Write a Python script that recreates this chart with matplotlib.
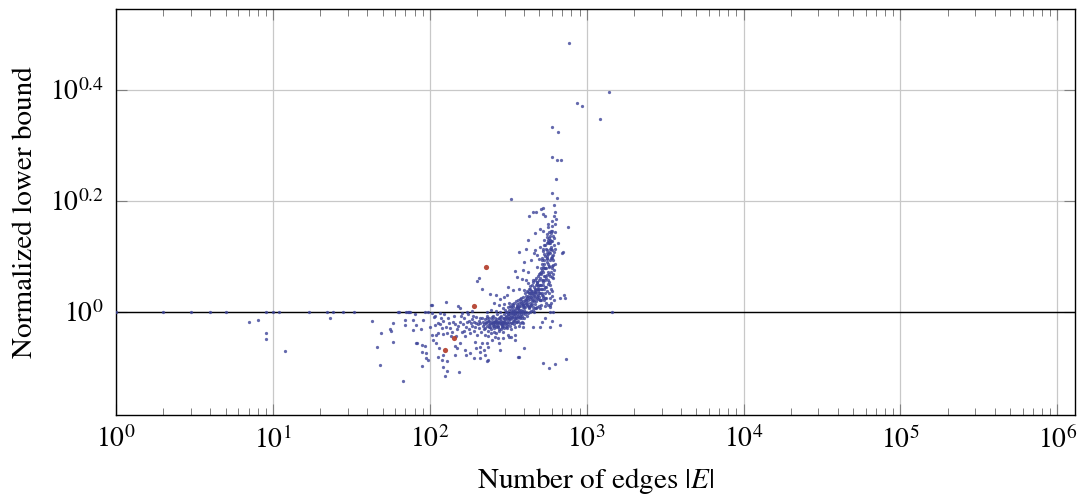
import numpy as np
import matplotlib
matplotlib.use("Agg")
import matplotlib.pyplot as plt
from matplotlib.ticker import FixedLocator, NullLocator, LogLocator, NullFormatter

plt.rcParams['font.family'] = ['STIXGeneral', 'DejaVu Serif']
plt.rcParams['mathtext.fontset'] = 'stix'

# ---------------- data ----------------
# points lying on the reference line (bound = 1)
edges_line = [1, 2, 3, 4, 5, 9, 10, 11, 17, 22, 24, 28, 33, 63, 64, 71, 73, 74, 75, 93, 98, 585, 610, 1450]
bound_line = [1.0, 1.0, 1.0, 1.0, 1.0, 1.0, 1.0, 1.0, 1.0, 1.0, 1.0, 1.0,
              1.0, 1.0, 1.0, 1.0, 1.0, 1.0, 1.0, 1.0, 1.0, 1.0, 1.0, 1.0]

# sparse points below the line
edges_sparse = [7, 8, 9, 9, 12, 23, 43, 49, 46, 48,
                58, 56, 57, 58, 67, 69, 70, 78, 78, 82,
                88, 91, 83, 89, 93, 89, 95, 89, 95, 97,
                80, 82,
                102, 104, 106, 100, 103, 108, 116, 119, 109, 113,
                121, 105, 110, 114, 113, 119, 121, 129, 121, 125,
                128, 154, 145, 145, 148, 156, 167, 170, 180, 190,
                193, 197, 208, 208, 235, 225, 280, 275, 230, 250,
                260, 273, 292, 315, 330, 350, 365, 400, 350, 455,
                505, 520, 545, 585, 675, 605, 525, 575, 630, 740,
                370, 235, 233, 220, 208, 215, 292, 320, 103, 126,
                116, 152, 156]
bound_sparse = [0.961, 0.969, 0.917, 0.893, 0.851, 0.974, 0.965, 0.917, 0.865, 0.803,
                0.954, 0.933, 0.926, 0.884, 0.75, 0.967, 0.946, 0.967, 0.928, 0.946,
                0.931, 0.967, 0.878, 0.872, 0.869, 0.846, 0.843, 0.80, 0.826, 0.82,
                0.99, 0.881,
                1.03, 0.995, 0.978, 0.941, 0.909, 0.947, 0.952, 0.935, 0.909, 0.915,
                0.913, 0.891, 0.878, 0.86, 0.831, 0.82, 0.837, 0.816, 0.797, 0.767,
                0.784, 0.779, 0.87, 0.837, 0.86, 0.878, 0.854, 0.837, 0.843, 0.826,
                0.884, 0.86, 0.866, 0.827, 0.82, 0.837, 0.854, 0.878, 0.878, 0.891,
                0.903, 0.897, 0.922, 0.909, 0.903, 0.891, 0.831, 0.863, 0.909, 0.941,
                0.941, 0.961, 0.974, 0.941, 0.947, 0.965, 0.808, 0.794, 0.806, 0.822,
                0.831, 0.866, 0.817, 0.854, 0.848, 0.878, 0.897, 0.9, 1.029, 1.042,
                0.995, 1.025, 1.015]

# upper part of the cloud and outliers
edges_upper = [774, 1393, 864, 937, 1222, 604, 660, 604, 644, 689,
               640, 600, 650, 329, 620, 525, 515, 455, 475, 630,
               620, 430, 525, 540, 600, 640, 570, 605, 755, 505,
               525, 630, 590, 470, 555, 585, 600, 565, 425, 660,
               535, 505, 705, 695, 410, 370, 470, 460, 485, 525,
               555, 585, 610, 555, 600, 520, 495, 440, 400, 610,
               575, 525, 480, 350, 395, 425, 505, 555, 600, 200,
               205, 215, 360, 385, 410, 455, 425, 480, 530, 570,
               605, 680, 720, 730, 315, 340, 370, 400, 435, 470,
               520, 545, 505, 310, 295, 280, 265, 242, 255, 275,
               295, 320, 340, 365, 395, 435, 470, 505, 545, 585]
bound_upper = [3.04, 2.49, 2.38, 2.35, 2.22, 2.15, 2.11, 1.90, 1.88, 1.873,
               1.735, 1.64, 1.60, 1.597, 1.56, 1.54, 1.53, 1.51, 1.51, 1.51,
               1.49, 1.49, 1.50, 1.49, 1.455, 1.47, 1.44, 1.43, 1.42, 1.41,
               1.40, 1.39, 1.385, 1.385, 1.366, 1.35, 1.342, 1.335, 1.347, 1.33,
               1.32, 1.31, 1.284, 1.275, 1.30, 1.28, 1.29, 1.275, 1.267, 1.285,
               1.275, 1.279, 1.267, 1.244, 1.25, 1.24, 1.247, 1.24, 1.23, 1.215,
               1.203, 1.203, 1.206, 1.186, 1.19, 1.182, 1.174, 1.166, 1.157, 1.137,
               1.15, 1.10, 1.157, 1.148, 1.141, 1.141, 1.126, 1.123, 1.134, 1.123,
               1.09, 1.058, 1.073, 1.058, 1.11, 1.095, 1.098, 1.095, 1.08, 1.088,
               1.073, 1.058, 1.051, 1.073, 1.063, 1.054, 1.073, 1.076, 1.039, 1.029,
               1.034, 1.037, 1.022, 1.015, 1.029, 1.025, 1.015, 1.018, 1.025, 1.029]

# dense core, 100-220 edges
edges_a = [150, 155, 158, 160, 163, 165, 168, 170, 172, 175,
           177, 180, 182, 185, 187, 190, 192, 195, 197, 200,
           202, 205, 207, 210, 212, 215, 217, 220, 152, 166,
           178, 188, 198, 208, 218, 160, 173, 185, 140, 135,
           130, 138, 145, 132, 127, 122, 118, 112, 108, 124,
           142, 146, 136, 128]
bound_a = [0.93, 0.96, 0.985, 0.92, 0.95, 0.975, 0.905, 0.94, 0.96, 0.99,
           0.93, 0.915, 0.955, 0.97, 0.945, 0.925, 0.96, 0.94, 0.98, 0.91,
           0.95, 0.965, 0.935, 0.955, 0.92, 0.975, 0.945, 0.93, 0.945, 0.925,
           0.965, 0.985, 0.955, 0.975, 0.96, 0.995, 1.0, 1.005, 0.96, 0.935,
           0.975, 0.92, 0.95, 0.955, 0.94, 0.965, 0.975, 0.955, 0.985, 0.99,
           0.985, 0.905, 0.905, 0.915]

# dense core, 220-300 edges
edges_b = [222, 224, 226, 228, 230, 232, 234, 236, 238, 240,
           242, 244, 246, 248, 250, 252, 254, 256, 258, 260,
           262, 264, 266, 268, 270, 272, 274, 276, 278, 280,
           282, 284, 286, 288, 290, 292, 294, 296, 298, 300,
           225, 235, 245, 255, 265, 275, 285, 295, 231, 247,
           263, 279, 291, 227, 239, 251, 259, 267, 273, 283,
           289, 297, 237, 243, 253, 261, 269, 277, 287, 299,
           233, 249, 257, 271, 281, 293]
bound_b = [0.95, 0.97, 0.935, 0.96, 0.985, 0.945, 0.925, 0.965, 0.95, 0.975,
           0.94, 0.96, 0.93, 0.955, 0.97, 0.945, 0.985, 0.96, 0.935, 0.95,
           0.975, 0.94, 0.965, 0.955, 0.99, 0.945, 0.96, 0.975, 0.93, 0.955,
           0.97, 0.95, 0.985, 0.96, 0.94, 0.975, 0.955, 0.965, 0.99, 0.95,
           0.91, 0.905, 0.915, 0.92, 0.915, 0.925, 0.93, 0.935, 1.0, 1.01,
           1.005, 1.0, 1.015, 0.955, 0.965, 0.95, 0.965, 0.945, 0.955, 0.965,
           0.95, 0.975, 0.94, 0.95, 0.96, 0.96, 0.97, 0.96, 0.945, 0.96,
           0.975, 0.98, 0.945, 0.94, 0.98, 0.945]

# dense core, 300-400 edges
edges_c = [302, 304, 306, 308, 310, 312, 314, 316, 318, 320,
           322, 324, 326, 328, 330, 332, 334, 336, 338, 340,
           342, 344, 346, 348, 350, 352, 354, 356, 358, 360,
           362, 364, 366, 368, 370, 372, 374, 376, 378, 380,
           382, 384, 386, 388, 390, 392, 394, 396, 398, 400,
           305, 315, 325, 335, 345, 355, 365, 375, 385, 395,
           303, 313, 323, 333, 343, 353, 363, 373, 383, 393,
           307, 317, 327, 337, 347, 357, 367, 377, 387, 397,
           309, 319, 329, 339, 349, 359, 369, 379, 389, 399,
           311, 321, 331, 341, 351, 361, 371, 381, 391, 311,
           331, 351, 371, 391]
bound_c = [0.97, 0.985, 0.955, 1.0, 0.97, 0.945, 0.99, 0.975, 1.01, 0.96,
           0.985, 0.995, 0.97, 1.02, 0.955, 0.98, 1.0, 0.975, 0.99, 1.03,
           0.965, 0.985, 1.005, 0.975, 0.995, 1.015, 0.98, 1.0, 0.96, 0.99,
           1.02, 1.005, 0.985, 1.04, 0.995, 1.01, 0.975, 1.0, 1.025, 0.99,
           1.01, 1.045, 0.985, 1.005, 1.02, 0.995, 1.03, 1.01, 0.975, 1.0,
           0.94, 0.95, 0.945, 0.955, 0.95, 0.96, 0.965, 0.955, 0.96, 0.955,
           1.01, 1.02, 1.025, 1.035, 1.04, 1.045, 1.05, 1.055, 1.06, 1.065,
           0.98, 0.99, 0.985, 1.01, 0.99, 1.025, 1.015, 0.985, 1.035, 1.04,
           0.96, 0.975, 0.995, 0.965, 1.01, 0.975, 0.98, 1.04, 0.975, 1.02,
           1.0, 0.97, 1.01, 0.995, 0.97, 1.035, 1.025, 1.0, 1.045, 0.935,
           0.93, 0.94, 0.945, 0.94]

# dense core, 400-500 edges
edges_d = [402, 405, 408, 410, 412, 415, 418, 420, 422, 425,
           428, 430, 432, 435, 438, 440, 442, 445, 448, 450,
           452, 455, 458, 460, 462, 465, 468, 470, 472, 475,
           478, 480, 482, 485, 488, 490, 492, 495, 498, 500,
           404, 414, 424, 434, 444, 454, 464, 474, 484, 494,
           406, 416, 426, 436, 446, 456, 466, 476, 486, 496,
           409, 419, 429, 439, 449, 459, 469, 479, 489, 499,
           411, 421, 431, 441, 451, 461, 471, 481, 491, 497]
bound_d = [1.02, 1.05, 1.035, 1.07, 1.0, 1.04, 1.06, 1.025, 1.085, 1.05,
           1.015, 1.065, 1.04, 1.1, 1.055, 1.03, 1.075, 1.045, 1.09, 1.06,
           1.02, 1.08, 1.05, 1.11, 1.07, 1.035, 1.095, 1.06, 1.12, 1.08,
           1.045, 1.1, 1.07, 1.13, 1.09, 1.055, 1.115, 1.08, 1.14, 1.1,
           0.99, 0.985, 0.995, 1.0, 1.005, 1.01, 1.0, 1.015, 1.02, 1.025,
           1.08, 1.09, 1.1, 1.115, 1.12, 1.13, 1.14, 1.15, 1.16, 1.17,
           1.045, 1.03, 1.08, 1.065, 1.035, 1.075, 1.085, 1.06, 1.1, 1.065,
           1.055, 1.07, 1.02, 1.09, 1.08, 1.045, 1.1, 1.13, 1.075, 1.12]

# dense core, 500-630 edges
edges_e = [502, 505, 508, 510, 512, 515, 518, 520, 522, 525,
           528, 530, 532, 535, 538, 540, 542, 545, 548, 550,
           552, 555, 558, 560, 562, 565, 568, 570, 572, 575,
           578, 580, 582, 585, 588, 590, 592, 595, 598, 600,
           603, 606, 609, 612, 615, 618, 620, 623, 626, 630,
           504, 514, 524, 534, 544, 554, 564, 574, 584, 594,
           506, 516, 526, 536, 546, 556, 566, 576, 586, 596,
           511, 521, 531, 541, 551, 561, 571, 581, 591, 601,
           513, 523, 533, 543, 553, 563, 573, 583, 593, 605,
           517, 537, 557, 567, 577, 587, 597, 607, 617, 627]
bound_e = [1.15, 1.08, 1.2, 1.12, 1.05, 1.17, 1.25, 1.1, 1.19, 1.14,
           1.3, 1.06, 1.22, 1.16, 1.35, 1.11, 1.26, 1.2, 1.04, 1.3,
           1.15, 1.38, 1.23, 1.09, 1.33, 1.18, 1.42, 1.27, 1.13, 1.36,
           1.21, 1.02, 1.3, 1.16, 1.4, 1.25, 1.1, 1.34, 1.2, 1.29,
           1.07, 1.37, 1.24, 1.15, 1.32, 1.05, 1.28, 1.19, 1.44, 1.22,
           1.05, 1.03, 1.07, 1.05, 1.08, 1.06, 1.03, 1.08, 1.06, 1.04,
           1.12, 1.14, 1.18, 1.2, 1.16, 1.25, 1.22, 1.28, 1.24, 1.31,
           1.18, 1.22, 1.27, 1.32, 1.2, 1.26, 1.33, 1.37, 1.3, 1.4,
           1.1, 1.12, 1.1, 1.14, 1.11, 1.14, 1.17, 1.12, 1.18, 1.21,
           1.08, 1.24, 1.29, 1.35, 1.39, 1.33, 1.26, 1.17, 1.36, 1.3]

# highlighted instances
edges_red = [125, 143, 192, 227]
bound_red = [0.855, 0.899, 1.024, 1.203]

x_ticks = [1e0, 1e1, 1e2, 1e3, 1e4, 1e5, 1e6]
x_tick_labels = [r'$10^{0}$', r'$10^{1}$', r'$10^{2}$', r'$10^{3}$',
                 r'$10^{4}$', r'$10^{5}$', r'$10^{6}$']
y_tick_exponents = [0.0, 0.2, 0.4]
y_tick_labels = [r'$10^{0}$', r'$10^{0.2}$', r'$10^{0.4}$']

# ---------------- plot ----------------
W, H = 1077, 498
fig = plt.figure(figsize=(W / 100, H / 100), dpi=100)
ax = fig.add_axes([116 / W, 1 - 415 / H, (1074.5 - 116) / W, (415 - 9.5) / H])
ax.set_xscale('log')
ax.set_yscale('log')

edges_blue = np.concatenate([edges_line, edges_sparse, edges_upper,
                             edges_a, edges_b, edges_c, edges_d, edges_e])
bound_blue = np.concatenate([bound_line, bound_sparse, bound_upper,
                             bound_a, bound_b, bound_c, bound_d, bound_e])

ax.axhline(1.0, color='black', lw=1.0, zorder=2)
ax.scatter(edges_blue, bound_blue, s=5.5, color='#3d4499', alpha=0.8,
           linewidths=0, zorder=3)
ax.scatter(edges_red, bound_red, s=14, color='#b23a27', alpha=0.9,
           linewidths=0, zorder=4)

ax.set_xlim(1, 10 ** 6.109)
ax.set_ylim(10 ** -0.1853, 10 ** 0.544)

ax.xaxis.set_major_locator(FixedLocator(x_ticks))
ax.set_xticklabels(x_tick_labels)
ax.xaxis.set_minor_locator(LogLocator(base=10, subs=np.arange(2, 10), numticks=20))
ax.xaxis.set_minor_formatter(NullFormatter())
y_ticks = [10 ** e for e in y_tick_exponents]
ax.yaxis.set_major_locator(FixedLocator(y_ticks))
ax.set_yticklabels(y_tick_labels)
ax.yaxis.set_minor_locator(NullLocator())

ax.grid(True, which='major', color='#c8c8c8', lw=0.9, zorder=0)
ax.set_axisbelow(True)
ax.tick_params(which='major', direction='in', length=8, width=0.8, color='#808080',
               top=True, right=True, labelsize=20)
ax.tick_params(axis='y', which='major', pad=9)
ax.tick_params(axis='x', which='major', pad=8)
ax.tick_params(which='minor', direction='in', length=4.8, width=0.7, color='#808080',
               top=True, right=True)
for sp in ax.spines.values():
    sp.set_linewidth(1.0)
    sp.set_color('black')

ax.set_xlabel(r'Number of edges $|E|$', fontsize=21, labelpad=9)
ax.set_ylabel('Normalized lower bound', fontsize=21, labelpad=8)

fig.savefig('out.png', dpi=100)
